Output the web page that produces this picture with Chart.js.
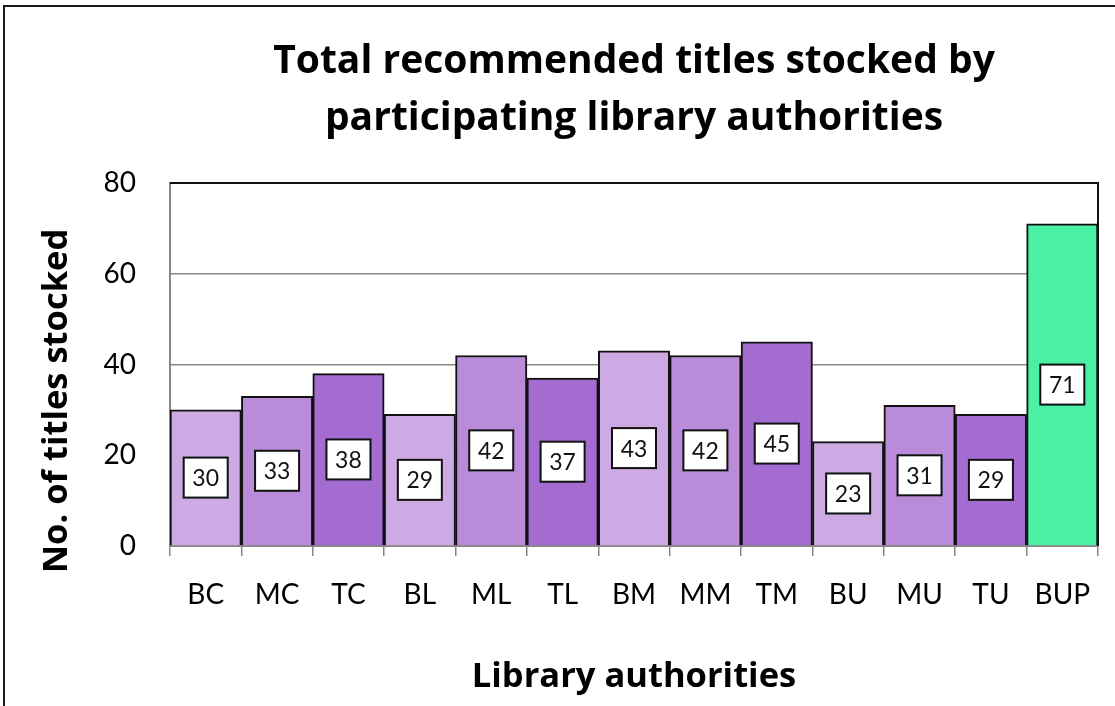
<!DOCTYPE html>
<html>
<head>
<meta charset="utf-8">
<script src="https://cdn.jsdelivr.net/npm/chart.js@4/dist/chart.umd.min.js"></script>
<style>
  html, body { margin: 0; padding: 0; background: #fff; overflow: hidden; }
  #wrap { position: relative; width: 1115px; height: 706px; }
  #frame { position: absolute; left: 3px; top: 5px; width: 1200px; height: 800px; border: 2px solid #1a1a1a; pointer-events: none; }
  canvas { position: absolute; left: 0; top: 0; }
</style>
</head>
<body>
<div id="wrap">
  <canvas id="chart" width="1115" height="706"></canvas>
  <div id="frame"></div>
</div>
<script>
const categories = ['BC', 'MC', 'TC', 'BL', 'ML', 'TL', 'BM', 'MM', 'TM', 'BU', 'MU', 'TU', 'BUP'];
const titlesStocked = [30, 33, 38, 29, 42, 37, 43, 42, 45, 23, 31, 29, 71];
const barColors = [
  '#cdaae3', '#b98bd9', '#a46bd0',
  '#cdaae3', '#b98bd9', '#a46bd0',
  '#cdaae3', '#b98bd9', '#a46bd0',
  '#cdaae3', '#b98bd9', '#a46bd0',
  '#4af0a4'
];
const yTicks = [0, 20, 40, 60, 80];
const yTitle = 'No. of titles stocked';

const FONT = 'Lato, Carlito, Calibri, sans-serif';
const BOLD_FONT = '"Open Sans", Lato, sans-serif';

// white boxed value labels in the middle of each bar
const boxLabels = {
  id: 'boxLabels',
  afterDatasetsDraw(chart) {
    const ctx = chart.ctx;
    const meta = chart.getDatasetMeta(0);
    ctx.save();
    ctx.font = '23px ' + FONT;
    ctx.textAlign = 'center';
    ctx.textBaseline = 'middle';
    meta.data.forEach((bar, i) => {
      const cx = bar.x;
      const cy = (bar.y + bar.base) / 2;
      const w = 44, h = 40;
      ctx.fillStyle = '#fff';
      ctx.fillRect(cx - w / 2, cy - h / 2, w, h);
      ctx.lineWidth = 2;
      ctx.strokeStyle = '#111';
      ctx.strokeRect(cx - w / 2, cy - h / 2, w, h);
      ctx.fillStyle = '#111';
      ctx.fillText(String(titlesStocked[i]), cx, cy + 1);
    });
    ctx.restore();
  }
};

// black top and right edge of the plot area, plus the y axis title
const plotEdge = {
  id: 'plotEdge',
  afterDatasetsDraw(chart) {
    const { ctx, chartArea } = chart;
    ctx.save();
    ctx.strokeStyle = '#111';
    ctx.lineWidth = 2;
    ctx.beginPath();
    ctx.moveTo(chartArea.left, chartArea.top);
    ctx.lineTo(chartArea.right, chartArea.top);
    ctx.lineTo(chartArea.right, chartArea.bottom);
    ctx.stroke();

    // y title sits a little below the plot centre, like the original
    ctx.translate(57, chartArea.bottom - (chartArea.bottom - chartArea.top) * 0.4);
    ctx.rotate(-Math.PI / 2);
    ctx.font = 'bold 34.5px ' + BOLD_FONT;
    ctx.fillStyle = '#000';
    ctx.textAlign = 'center';
    ctx.textBaseline = 'middle';
    ctx.fillText(yTitle, 0, 0);
    ctx.restore();
  }
};

new Chart(document.getElementById('chart'), {
  type: 'bar',
  data: {
    labels: categories,
    datasets: [{
      label: yTitle,
      data: titlesStocked,
      backgroundColor: barColors,
      borderColor: '#111',
      borderWidth: 2,
      borderSkipped: 'bottom',
      categoryPercentage: 1,
      barPercentage: 1
    }]
  },
  options: {
    responsive: false,
    animation: false,
    layout: { padding: { left: 0, right: 17, top: 0, bottom: 0 } },
    plugins: {
      legend: { display: false },
      tooltip: { enabled: false },
      title: {
        display: true,
        fullSize: false,
        text: ['Total recommended titles stocked by', 'participating library authorities'],
        color: '#000',
        font: { family: BOLD_FONT, size: 39, weight: 'bold', lineHeight: 1.45 },
        padding: { top: 34, bottom: 36 }
      }
    },
    scales: {
      x: {
        grid: { drawOnChartArea: false, drawTicks: true, tickLength: 10, color: '#888', lineWidth: 1.5 },
        border: { color: '#888', width: 2 },
        ticks: { color: '#000', font: { family: FONT, size: 28 }, padding: 22, maxRotation: 0 },
        title: {
          display: true,
          text: 'Library authorities',
          color: '#000',
          font: { family: BOLD_FONT, size: 34.5, weight: 'bold' },
          padding: { top: 0, bottom: 8 }
        },
        afterFit(scale) { scale.height = 160; }
      },
      y: {
        min: 0,
        max: 80,
        afterBuildTicks(scale) { scale.ticks = yTicks.map(v => ({ value: v })); },
        grid: {
          drawTicks: false,
          color: ctx => (ctx.tick && ctx.tick.value === 80 ? '#111' : '#888'),
          lineWidth: 1.5
        },
        border: { color: '#888', width: 2 },
        ticks: { color: '#000', font: { family: FONT, size: 28 }, padding: 34 },
        afterFit(scale) { scale.width = 170; }
      }
    }
  },
  plugins: [boxLabels, plotEdge]
});
</script>
</body>
</html>
